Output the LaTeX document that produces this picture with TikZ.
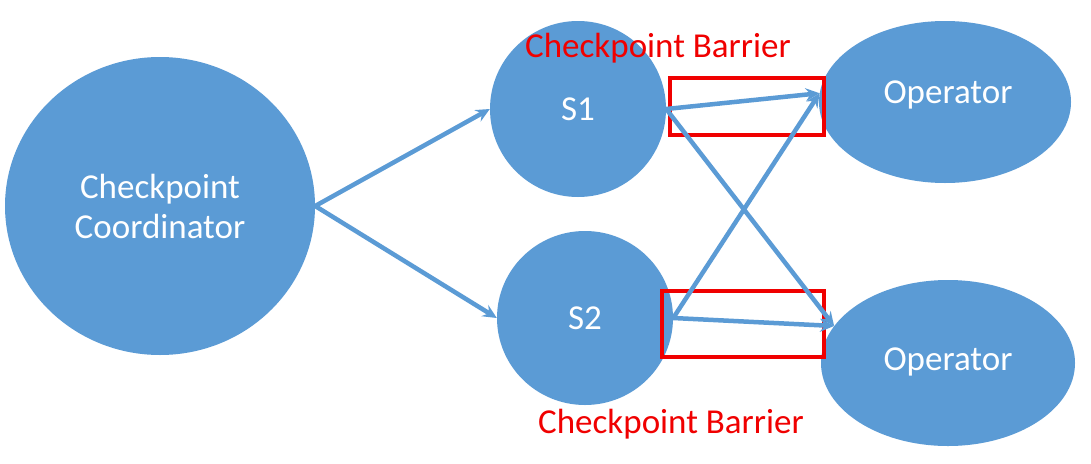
\documentclass[tikz,border=0pt]{standalone}
\usepackage{fontspec}
\setmainfont{Carlito}
\usetikzlibrary{shapes.geometric,arrows.meta}
\definecolor{nodeblue}{HTML}{5B9BD5}
\definecolor{barred}{HTML}{F00000}
\begin{document}
\begin{tikzpicture}[x=1pt,y=-1pt,
  blob/.style={ellipse,fill=nodeblue,draw=none,text=white,font=\fontsize{35}{40}\selectfont,align=center,inner sep=0pt},
  barrier/.style={draw=barred,line width=4pt,rectangle,inner sep=0pt},
  blabel/.style={text=barred,font=\fontsize{35}{40}\selectfont,inner sep=0pt},
  flow/.style={draw=nodeblue,line width=4.5pt,-{Stealth[length=14pt,width=13pt,inset=5pt]}}]
\useasboundingbox (0,0) rectangle (1091,463);
\fill[white] (0,0) rectangle (1091,463);
\node[blob,minimum width=310pt,minimum height=298pt] (cc) at (160,206) {Checkpoint\\Coordinator};
\node[blob,minimum width=176pt,minimum height=176pt] (s1) at (578,109) {S1};
\node[blob,minimum width=176pt,minimum height=174pt] (s2) at (585,318) {S2};
\node[blob,minimum width=252pt,minimum height=162pt] (op1) at (945,102) {};
\node[blob,minimum width=254pt,minimum height=166pt] (op2) at (948,363) {};
\node[blob,fill=none] (t1) at (948,95) {Operator};
\node[blob,fill=none] (t2) at (948,362) {Operator};
\node[barrier,minimum width=154pt,minimum height=57pt] (b1) at (747,106.5) {};
\node[barrier,minimum width=162pt,minimum height=66pt] (b2) at (743,324) {};
\node[blabel] (l1) at (658,48) {Checkpoint Barrier};
\node[blabel] (l2) at (671,424) {Checkpoint Barrier};
\draw[flow] (cc.east) -- (s1.west);
\draw[flow] (cc.east) -- (s2.west);
\draw[flow] (s1.east) -- (op1.176);
\draw[flow] (s1.east) -- (op2.162);
\draw[flow] (s2.east) -- (op1.176);
\draw[flow] (s2.east) -- (op2.162);
\end{tikzpicture}
\end{document}
